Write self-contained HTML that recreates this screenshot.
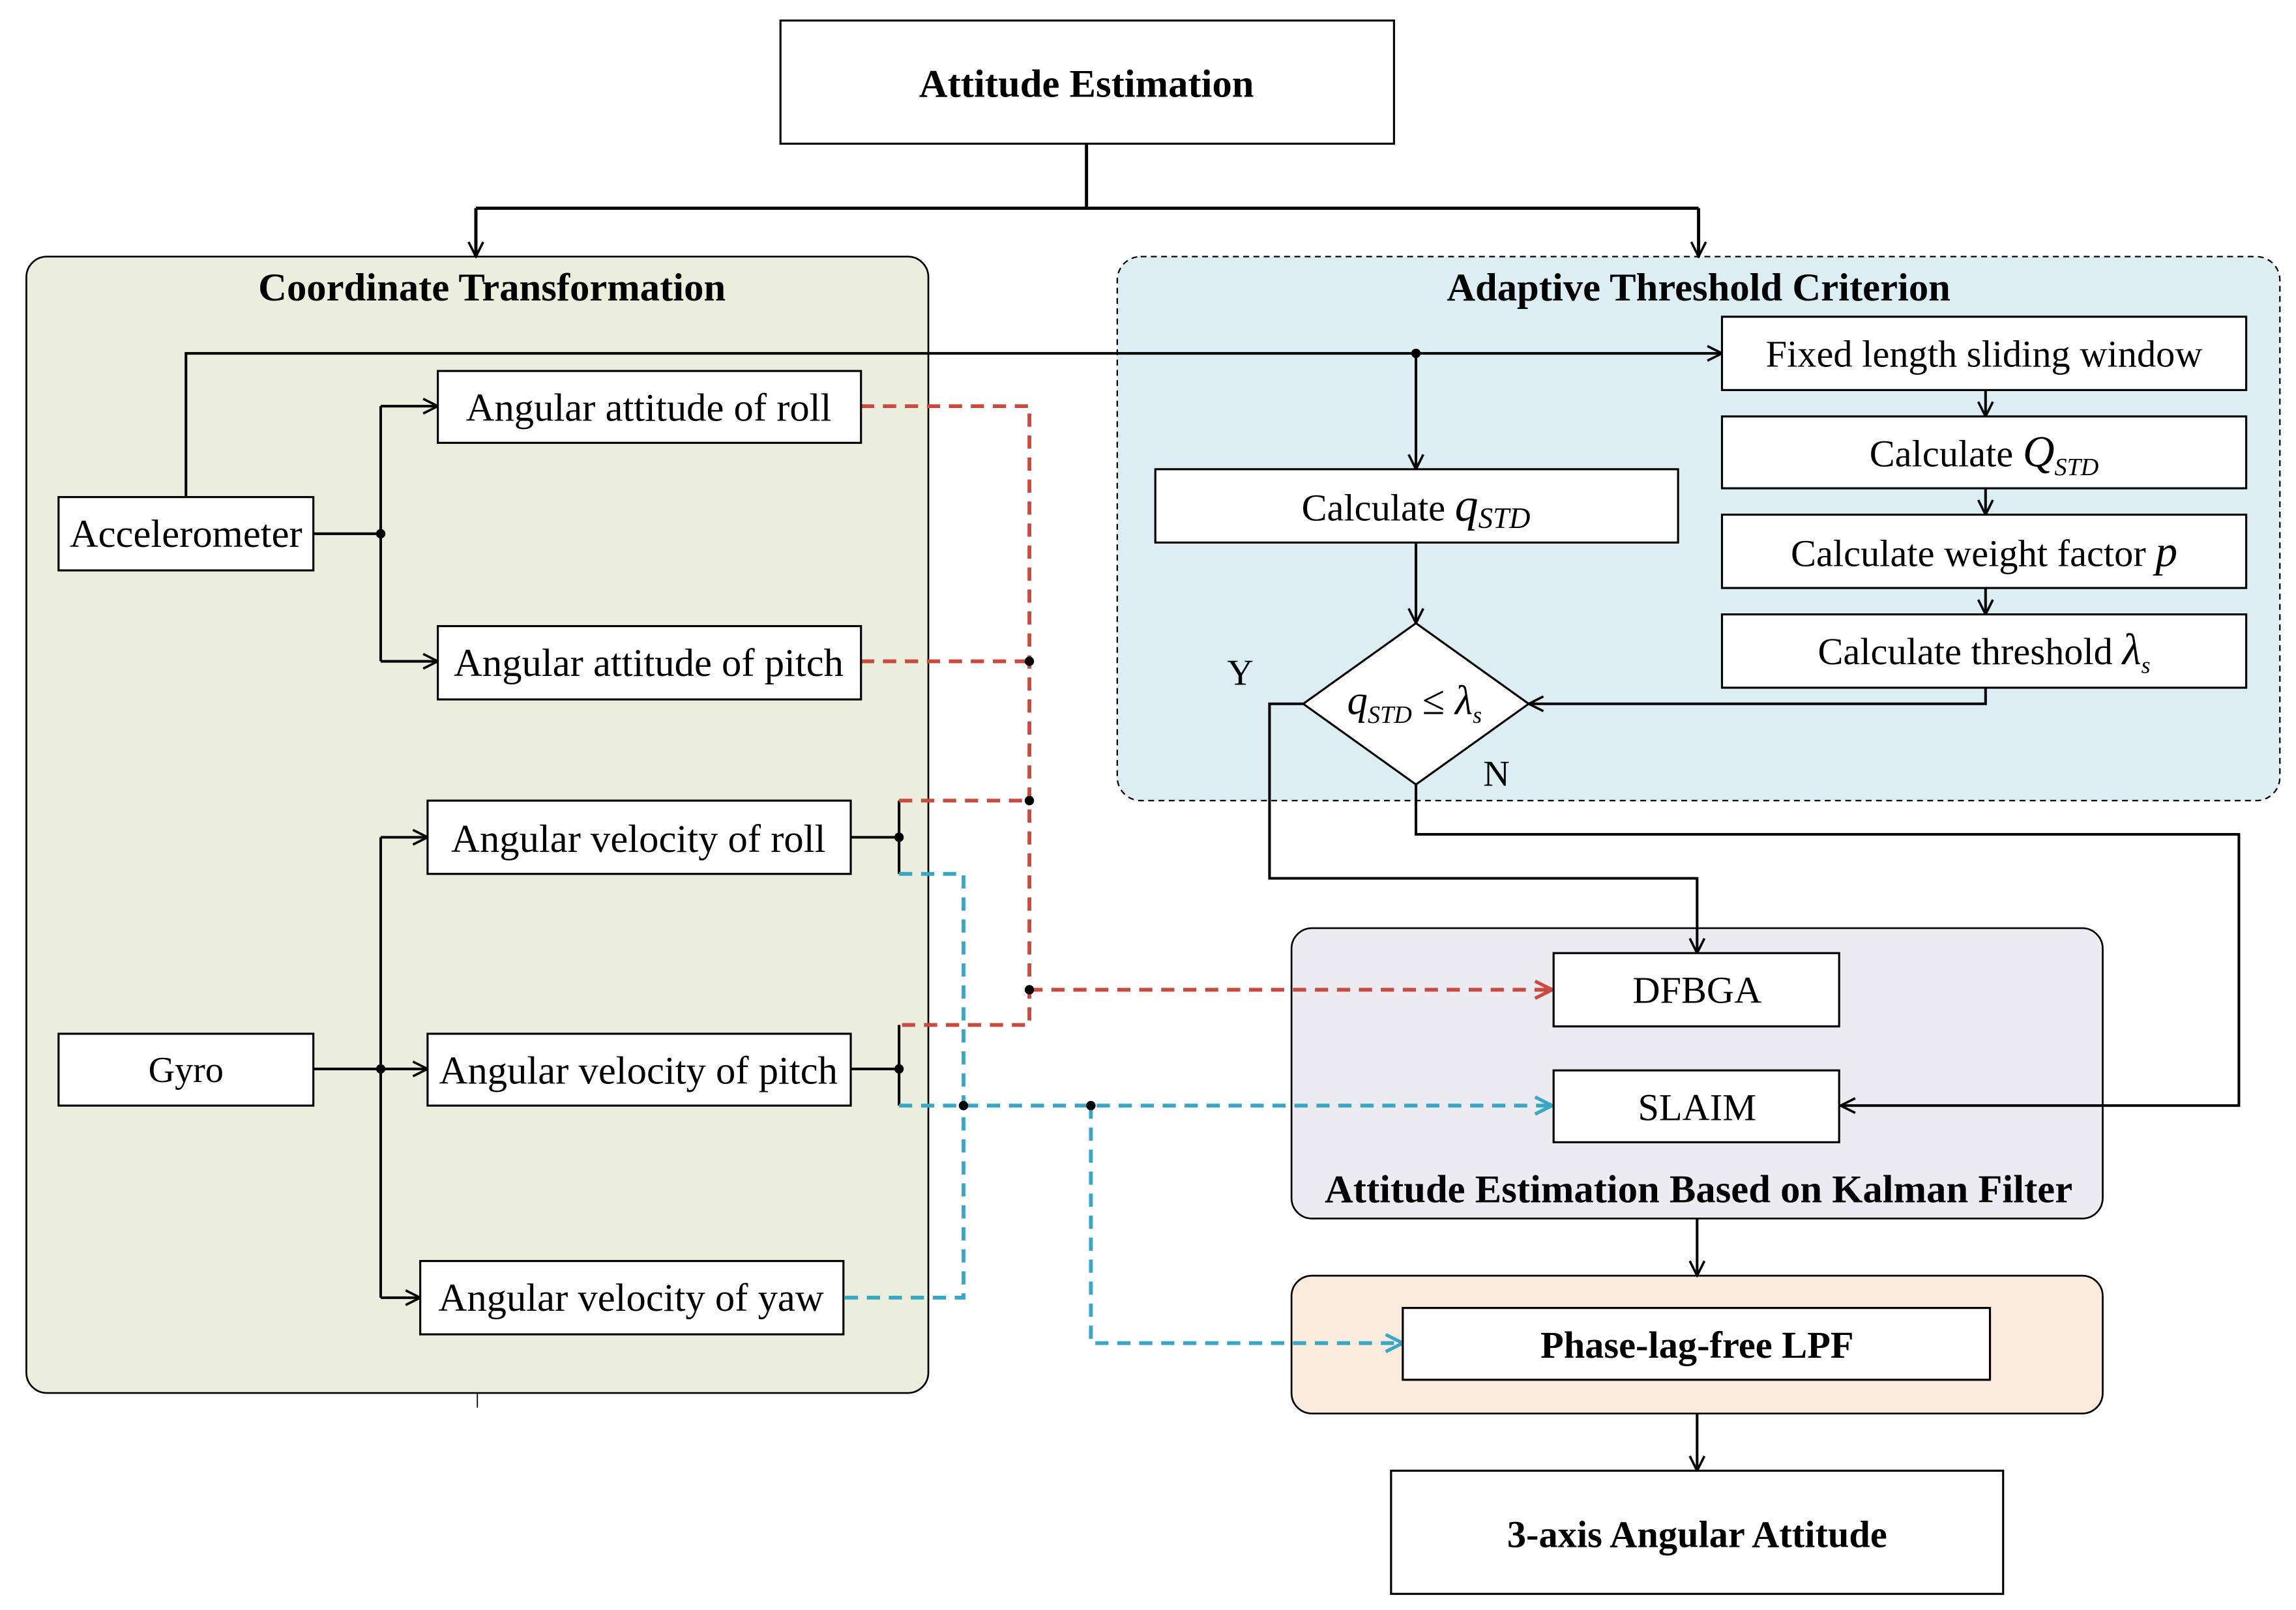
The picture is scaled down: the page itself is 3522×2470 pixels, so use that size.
<!DOCTYPE html>
<html><head><meta charset="utf-8"><style>html,body{margin:0;padding:0;background:#fff}svg{display:block}</style></head><body>
<svg width="3522" height="2470" viewBox="0 0 1568 1098" preserveAspectRatio="none" xmlns="http://www.w3.org/2000/svg" font-family="'Liberation Serif',serif">
<defs>
<marker id="a" viewBox="0 0 12 12" refX="11" refY="6" markerWidth="12" markerHeight="12" markerUnits="userSpaceOnUse" orient="auto"><path d="M1,1 L11,6 L1,11" fill="none" stroke="#000" stroke-width="1.6"/></marker>
<marker id="r" viewBox="0 0 12 12" refX="11" refY="6" markerWidth="14" markerHeight="14" markerUnits="userSpaceOnUse" orient="auto"><path d="M1,1 L11,6 L1,11" fill="none" stroke="#c94a3e" stroke-width="2"/></marker>
<marker id="b" viewBox="0 0 12 12" refX="11" refY="6" markerWidth="14" markerHeight="14" markerUnits="userSpaceOnUse" orient="auto"><path d="M1,1 L11,6 L1,11" fill="none" stroke="#3aa6c6" stroke-width="2"/></marker>
</defs>
<rect x="18" y="175" width="616" height="775" rx="14" fill="#ebeedd" stroke="#000" stroke-width="1.2"/>
<line x1="326" y1="950" x2="326" y2="960" stroke="#000" stroke-width="0.8"/>
<rect x="763" y="175" width="794" height="371" rx="16" fill="#dcedf3" stroke="#000" stroke-width="1" stroke-dasharray="4,3"/>
<rect x="882" y="633" width="554" height="198" rx="14" fill="#ecebf2" stroke="#000" stroke-width="1.2"/>
<rect x="882" y="870" width="554" height="94" rx="14" fill="#fbebdd" stroke="#000" stroke-width="1.2"/>
<g font-weight="bold" font-size="27" text-anchor="middle">
<text x="336" y="205">Coordinate Transformation</text>
<text x="1160" y="205">Adaptive Threshold Criterion</text>
<text x="1160" y="820">Attitude Estimation Based on Kalman Filter</text>
</g>
<g stroke="#000" stroke-width="2.2" fill="none">
<path d="M742,98 V142 M325,142 H1160"/>
<path d="M325,142 V175" marker-end="url(#a)"/>
<path d="M1160,142 V175" marker-end="url(#a)"/>
</g>
<g stroke="#000" stroke-width="1.8" fill="none">
<path d="M127,339 V241 H1176" marker-end="url(#a)"/>
<path d="M967,241 V320" marker-end="url(#a)"/>
<path d="M214,364 H260 M260,277 V451"/>
<path d="M260,277 H299" marker-end="url(#a)"/>
<path d="M260,451 H299" marker-end="url(#a)"/>
<path d="M214,729 H260 M260,571 V885"/>
<path d="M260,571 H292" marker-end="url(#a)"/>
<path d="M260,729 H292" marker-end="url(#a)"/>
<path d="M260,885 H287" marker-end="url(#a)"/>
<path d="M581,571 H614 M614,546 V596 M581,729 H614 M614,699 V754"/>
<path d="M967,370 V425" marker-end="url(#a)"/>
<path d="M1356,266 V284" marker-end="url(#a)"/>
<path d="M1356,333 V351" marker-end="url(#a)"/>
<path d="M1356,401 V419" marker-end="url(#a)"/>
<path d="M1356,469 V480 H1044" marker-end="url(#a)"/>
<path d="M890,480 H867 V599 H1159 V650" marker-end="url(#a)"/>
<path d="M967,535 V569 H1529 V754 H1257" marker-end="url(#a)"/>
<path d="M1159,831 V870" marker-end="url(#a)"/>
<path d="M1159,964 V1003" marker-end="url(#a)"/>
</g>
<g stroke="#c94a3e" stroke-width="2.6" fill="none" stroke-dasharray="9,6">
<path d="M588,277 H703 V699 H614"/>
<path d="M588,451 H703 M614,546 H703"/>
<path d="M703,675 H1060" marker-end="url(#r)"/>
</g>
<g stroke="#3aa6c6" stroke-width="2.6" fill="none" stroke-dasharray="9,6">
<path d="M614,596 H658 V885 H576"/>
<path d="M614,754 H1060" marker-end="url(#b)"/>
<path d="M745,754 V916 H958" marker-end="url(#b)"/>
</g>
<g fill="#000">
<circle cx="260" cy="364" r="3.2"/><circle cx="260" cy="729" r="3.2"/><circle cx="967" cy="241" r="3.2"/>
<circle cx="614" cy="571" r="3.2"/><circle cx="614" cy="729" r="3.2"/>
<circle cx="703" cy="451" r="3.2"/><circle cx="703" cy="546" r="3.2"/><circle cx="703" cy="675" r="3.2"/>
<circle cx="658" cy="754" r="3.2"/><circle cx="745" cy="754" r="3.2"/>
</g>
<g fill="#fff" stroke="#000" stroke-width="1.4">
<rect x="533" y="14" width="419" height="84"/>
<rect x="40" y="339" width="174" height="50"/>
<rect x="40" y="705" width="174" height="49"/>
<rect x="299" y="253" width="289" height="49"/>
<rect x="299" y="427" width="289" height="50"/>
<rect x="292" y="546" width="289" height="50"/>
<rect x="292" y="705" width="289" height="49"/>
<rect x="287" y="860" width="289" height="50"/>
<rect x="789" y="320" width="357" height="50"/>
<rect x="1176" y="216" width="358" height="50"/>
<rect x="1176" y="284" width="358" height="49"/>
<rect x="1176" y="351" width="358" height="50"/>
<rect x="1176" y="419" width="358" height="50"/>
<path d="M967,425 L1044,480 L967,535 L890,480 Z"/>
<rect x="1061" y="650" width="195" height="50"/>
<rect x="1061" y="730" width="195" height="49"/>
<rect x="958" y="892" width="401" height="49"/>
<rect x="950" y="1003" width="418" height="84"/>
</g>
<g font-size="27" text-anchor="middle">
<text x="742" y="66" font-weight="bold">Attitude Estimation</text>
<text x="127" y="373">Accelerometer</text>
<text x="127" y="738" font-size="25">Gyro</text>
<text x="443" y="287">Angular attitude of roll</text>
<text x="443" y="461">Angular attitude of pitch</text>
<text x="436" y="581">Angular velocity of roll</text>
<text x="436" y="739">Angular velocity of pitch</text>
<text x="431" y="894">Angular velocity of yaw</text>
<text x="1355" y="250" font-size="26">Fixed length sliding window</text>
<text x="1355" y="318" font-size="26">Calculate <tspan font-style="italic" font-size="30">Q</tspan><tspan font-style="italic" font-size="17" dy="6">STD</tspan></text>
<text x="1355" y="386" font-size="26">Calculate weight factor  <tspan font-style="italic" font-size="30">p</tspan></text>
<text x="1355" y="453" font-size="26">Calculate threshold  <tspan font-style="italic" font-size="30">λ</tspan><tspan font-style="italic" font-size="16" dy="6">s</tspan></text>
<text x="967" y="355" font-size="26">Calculate <tspan font-style="italic" font-size="32">q</tspan><tspan font-style="italic" font-size="20" dy="5">STD</tspan></text>
<text x="966" y="487" font-size="28"><tspan font-style="italic">q</tspan><tspan font-style="italic" font-size="17" dy="6">STD</tspan><tspan dy="-6"> ≤ </tspan><tspan font-style="italic">λ</tspan><tspan font-style="italic" font-size="16" dy="6">s</tspan></text>
<text x="847" y="467" font-size="25">Y</text>
<text x="1022" y="536" font-size="25">N</text>
<text x="1159" y="684" font-size="26">DFBGA</text>
<text x="1159" y="764" font-size="26">SLAIM</text>
<text x="1159" y="926" font-weight="bold" font-size="26">Phase-lag-free LPF</text>
<text x="1159" y="1055" font-weight="bold" font-size="26">3-axis Angular Attitude</text>
</g>
</svg>
</body></html>
